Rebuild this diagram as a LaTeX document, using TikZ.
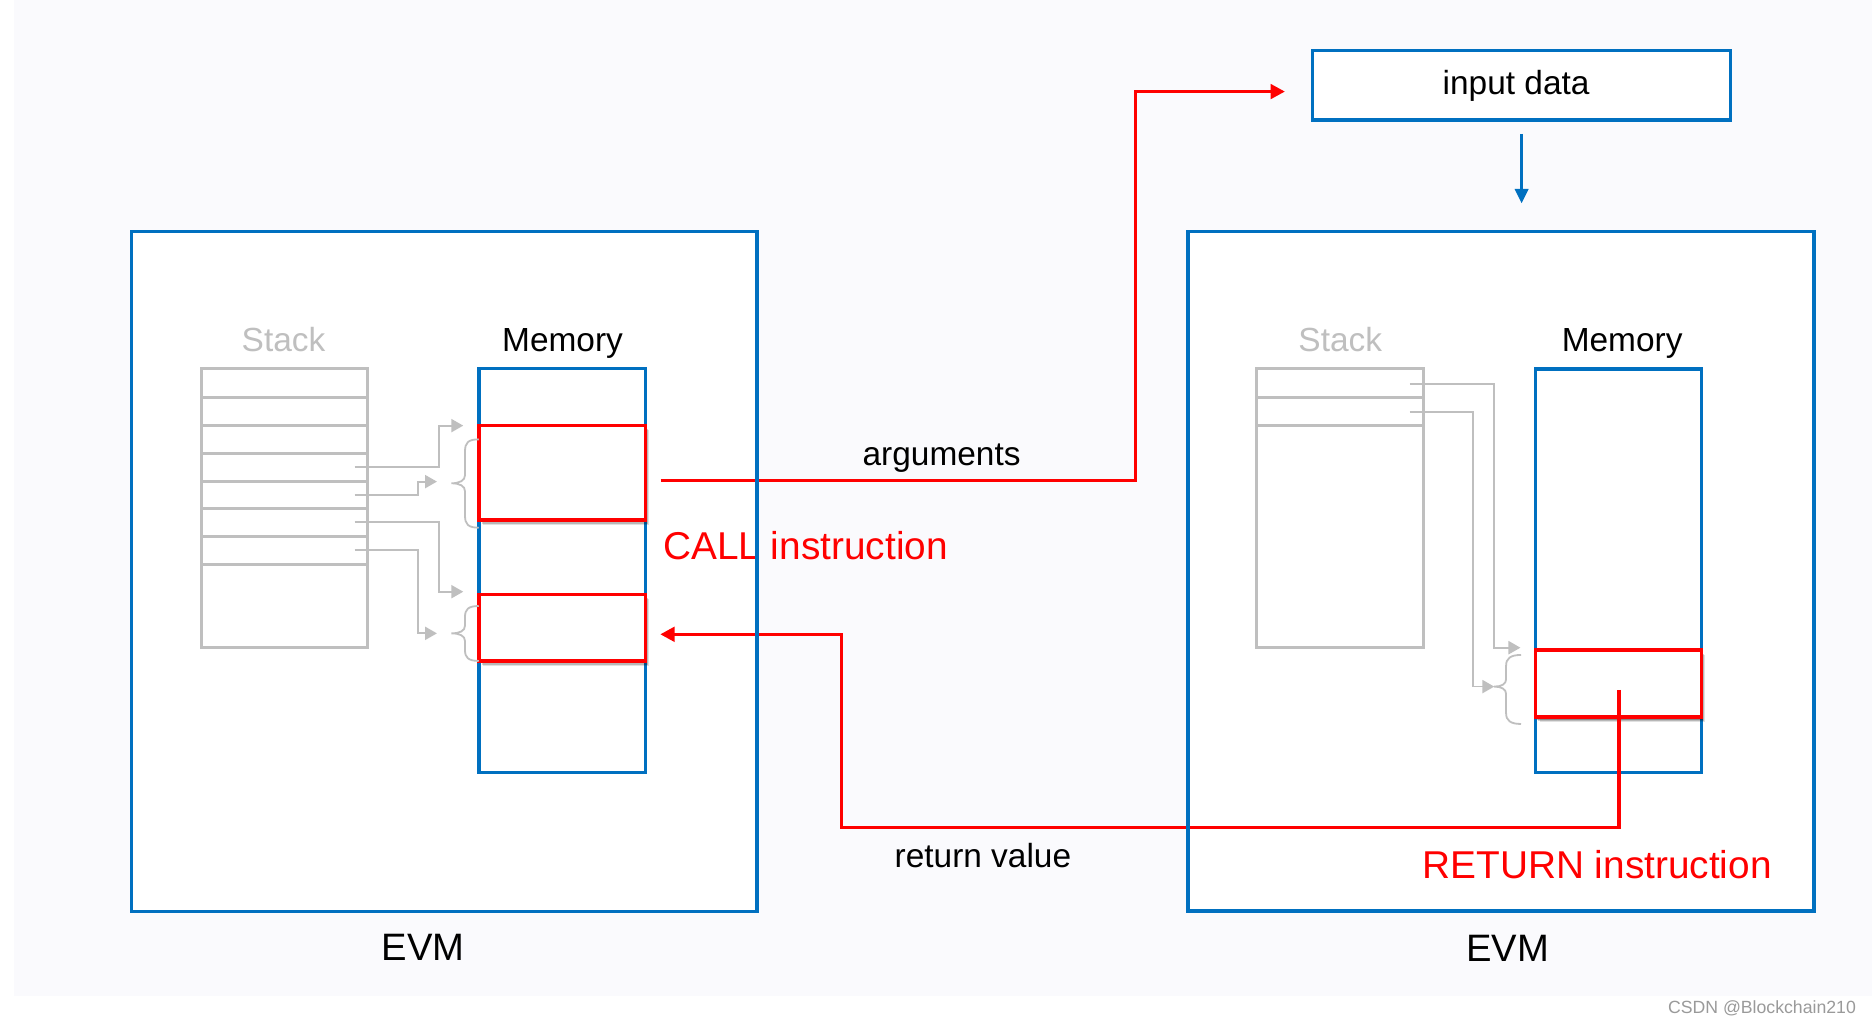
\documentclass[tikz,border=0pt]{standalone}
\usepackage{fontspec}
\setmainfont{Liberation Sans}
\usetikzlibrary{arrows.meta,shadows}
\definecolor{evmblue}{HTML}{0070C0}
\definecolor{callred}{HTML}{FF0000}
\definecolor{stackgray}{HTML}{BFBFBF}
\definecolor{panelbg}{HTML}{FAFAFD}
\definecolor{markgray}{HTML}{9A9A9A}
\begin{document}
\begin{tikzpicture}[x=1pt,y=-1pt,
  every node/.style={inner sep=0pt, outer sep=0pt},
  boxbase/.style={rectangle, anchor=north west},
  evmbox/.style={boxbase, fill=white},
  evmline/.style={draw=evmblue, line width=3pt},
  memorybox/.style={boxbase, draw=evmblue, line width=3pt, fill=white},
  inputbox/.style={boxbase, draw=evmblue, line width=3pt, fill=white},
  callbox/.style={boxbase, draw=callred, line width=3pt, fill=white,
     general shadow={shadow xshift=3.5pt, shadow yshift=-4pt, opacity=0.12, fill=black},
     general shadow={shadow xshift=2.5pt, shadow yshift=-3pt, opacity=0.18, fill=black},
     general shadow={shadow xshift=1.5pt, shadow yshift=-2pt, opacity=0.25, fill=black}},
  stackbox/.style={boxbase, draw=stackgray, line width=2.5pt, fill=white},
  stackrow/.style={stackgray, line width=2.5pt},
  link/.style={stackgray, line width=1.5pt, -{Triangle[length=10pt,width=11pt]}},
  bracestyle/.style={stackgray, line width=1.5pt},
  redarrow/.style={callred, line width=3pt, -{Triangle[length=12pt,width=12pt]}},
  bluearrow/.style={evmblue, line width=2.5pt, -{Triangle[length=12pt,width=11pt]}},
  lbl/.style={font=\fontsize{28}{34}\selectfont, text=black},
  graylbl/.style={font=\fontsize{28}{34}\selectfont, text=stackgray},
  redlbl/.style={font=\fontsize{32.5}{38}\selectfont, text=callred},
  evmlbl/.style={font=\fontsize{32}{38}\selectfont, text=black},
  marklbl/.style={font=\fontsize{14.8}{17}\selectfont, text=markgray}
]
\useasboundingbox (0,0) rectangle (1568,858);
\fill[white] (0,0) rectangle (1568,858);
\fill[panelbg] (11.7,0) rectangle (1568,834);

% EVM frames (fill)
\node[evmbox, minimum width=524.3pt, minimum height=569.5pt] (evmL) at (110,194) {};
\node[evmbox, minimum width=524pt, minimum height=569pt] (evmR) at (995.2,194) {};

% input data
\node[inputbox, minimum width=350.4pt, minimum height=58.1pt] (inp) at (1099.2,42.4) {};
\node[lbl, anchor=base] (inptxt) at (1269.9,79.5) {input data};

% stacks
\node[stackbox, minimum width=139.6pt, minimum height=233.5pt] (stackL) at (168.4,309) {};
\foreach \yy in {333.1,356.3,379.7,402.9,426.3,449.5,473.2}
  \draw[stackrow] (168.4,\yy) -- (308,\yy);
\node[stackbox, minimum width=139.7pt, minimum height=233.5pt] (stackR) at (1052.6,309) {};
\foreach \yy in {333,356.3}
  \draw[stackrow] (1052.6,\yy) -- (1192.3,\yy);

% memory
\node[memorybox, minimum width=139.5pt, minimum height=338.5pt] (memL) at (401,308.5) {};
\node[callbox, minimum width=139.5pt, minimum height=79.1pt] (argbox) at (401,356.5) {};
\node[callbox, minimum width=139.5pt, minimum height=55.8pt] (resbox) at (401,497.8) {};
\node[memorybox, minimum width=139pt, minimum height=338pt] (memR) at (1286,309) {};
\node[callbox, minimum width=139pt, minimum height=56.4pt] (retbox) at (1286,544.4) {};

% labels
\node[graylbl, anchor=base] (stackLtxt) at (237.5,294.6) {Stack};
\node[lbl, anchor=base] (memLtxt) at (471.2,294.6) {Memory};
\node[graylbl, anchor=base] (stackRtxt) at (1122.6,294.6) {Stack};
\node[lbl, anchor=base] (memRtxt) at (1358.7,294.6) {Memory};
\node[lbl, anchor=base] (argtxt) at (788.7,389.5) {arguments};
\node[redlbl, anchor=base west] (calltxt) at (555.5,468.5) {CALL instruction};
\node[lbl, anchor=base] (rettxt) at (823.3,726.7) {return value};
\node[redlbl, anchor=base east] (returntxt) at (1484,735.7) {RETURN instruction};
\node[evmlbl, anchor=base] (evmLtxt) at (354.3,804.9) {EVM};
\node[evmlbl, anchor=base] (evmRtxt) at (1262.7,805.5) {EVM};
\node[marklbl, anchor=base east] (mark) at (1554.5,848.8) {CSDN @Blockchain210};

% gray links, left
\coordinate (sL1) at (297,391);
\coordinate (sL2) at (297,414.6);
\coordinate (sL3) at (297,437.5);
\coordinate (sL4) at (297,460.7);
\coordinate (aL1) at (388,356.5);
\coordinate (aL2) at (366,403.4);
\coordinate (aL3) at (388,495.6);
\coordinate (aL4) at (366,530.5);
\draw[link] (sL1) -| (368,356.5) -- (aL1);
\draw[link] (sL2) -| (350,403.4) -- (aL2);
\draw[link] (sL3) -| (368,495.6) -- (aL3);
\draw[link] (sL4) -| (350,530.5) -- (aL4);

% gray links, right
\coordinate (sR1) at (1181,321.7);
\coordinate (sR2) at (1181,344.8);
\coordinate (aR1) at (1273.5,542.5);
\coordinate (aR2) at (1251.6,575.1);
\draw[link] (sR1) -| (1251.6,542.5) -- (aR1);
\draw[link] (sR2) -| (1234,575.1) -- (aR2);

% braces
\draw[bracestyle] (401,368) .. controls (392,368) and (389.5,371) .. (389.5,378)
  -- (389.5,398) .. controls (389.5,402.5) and (385,404.8) .. (378,404.8)
  .. controls (385,404.8) and (389.5,407) .. (389.5,411.5)
  -- (389.5,432) .. controls (389.5,439) and (392,442) .. (401,442);
\draw[bracestyle] (401,507.6) .. controls (392,507.6) and (389.5,510.6) .. (389.5,516.6)
  -- (389.5,524) .. controls (389.5,528.5) and (385,530.5) .. (378,530.5)
  .. controls (385,530.5) and (389.5,532.5) .. (389.5,537)
  -- (389.5,544.6) .. controls (389.5,550.6) and (392,553.6) .. (401,553.6);
\draw[bracestyle] (1274,548.6) .. controls (1265,548.6) and (1261.5,551.6) .. (1261.5,557.6)
  -- (1261.5,569) .. controls (1261.5,573) and (1257.5,575.1) .. (1251.6,575.1)
  .. controls (1257.5,575.1) and (1261.5,577.2) .. (1261.5,581.2)
  -- (1261.5,597.4) .. controls (1261.5,603.4) and (1265,606.4) .. (1274,606.4);

% red connectors
\coordinate (argstart) at (553.3,402.6);
\coordinate (argend) at (1076.3,76.7);
\draw[redarrow] (argstart) -- (951.2,402.6) |- (argend);
\coordinate (retstart) at (1356,577.9);
\coordinate (retend) at (553,531.3);
\draw[redarrow] (retstart) |- (705,693) |- (retend);

% blue arrow
\coordinate (inpout) at (1274.5,112.2);
\coordinate (evmin) at (1274.5,170.3);
\draw[bluearrow] (inpout) -- (evmin);

% EVM borders on top
\draw[evmline] (evmL.north west) rectangle (evmL.south east);
\draw[evmline] (evmR.north west) rectangle (evmR.south east);
\end{tikzpicture}
\end{document}
